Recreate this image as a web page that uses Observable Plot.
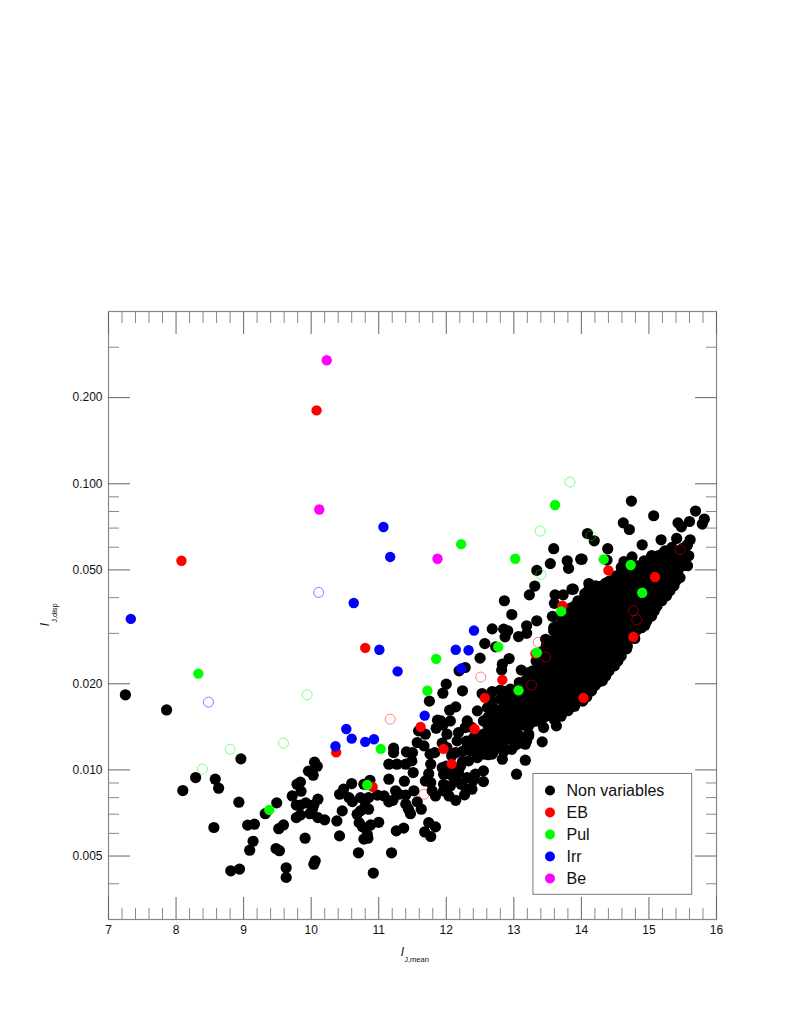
<!DOCTYPE html>
<html>
<head>
<meta charset="utf-8">
<script src="https://cdn.jsdelivr.net/npm/d3@7"></script>
<script src="https://cdn.jsdelivr.net/npm/@observablehq/plot@0.6"></script>
<style>html,body{margin:0;padding:0;background:#fff}svg{display:block}</style>
</head>
<body>
<div id="chart"></div>
<script>
const nonVariables = [
[7.25,.0183],[7.86,.0162],[8.96,.01093],[8.29,.0094],[8.58,.00928],[8.63,.00863],[8.10,.00847],[8.93,.00771],[9.49,.00767],[9.32,.00703],[9.72,.00811],[9.79,.00891],[9.84,.00906],[9.85,.00842],[9.96,.0099],[10.03,.00958],[10.05,.01064],[10.09,.0103],[9.78,.00753],[9.84,.00753],[9.92,.00767],[10.04,.00755],[10.10,.0079],[9.78,.00681],[9.84,.00696],[9.98,.00703],[10.10,.00681],[9.06,.00641],[9.16,.00646],[8.56,.00629],[9.52,.00623],[9.59,.00642],[9.14,.00563],[9.09,.00524],[9.91,.00577],[9.48,.00531],[9.53,.00522],[10.06,.00481],[10.04,.00468],[9.63,.00455],[9.63,.00421],[8.81,.00444],[8.94,.0045],
[10.02,.0073],[10.20,.00669],[10.38,.00663],[10.46,.00719],[10.42,.00588],[10.70,.00513],[11.19,.00513],[10.92,.00436],[10.42,.00822],[10.48,.00856],[10.60,.00896],[10.56,.008],[10.61,.00775],[10.73,.008],[10.85,.008],[10.98,.00816],[11.08,.00811],[11.15,.00773],[11.21,.00783],[10.87,.0092],[10.78,.00891],[10.73,.00719],[10.68,.007],[10.85,.00729],[10.80,.00748],[10.71,.00654],[10.76,.00632],[10.88,.00642],[11.00,.00656],[10.83,.00596],[10.84,.00577],[10.78,.00573],[11.26,.00612],[11.37,.00626],[11.15,.00928],[11.38,.00913],[11.25,.00845],[11.30,.00822],[11.40,.00816],[11.52,.00845],[11.40,.00759],[11.44,.00729],[11.47,.00703],[11.63,.00729],[11.57,.00773],[11.74,.00654],[11.84,.00632],[11.68,.00607],[11.77,.00585],
[11.15,.01047],[11.27,.01047],[11.40,.01047],[11.22,.01191],[11.22,.01149],[11.41,.01156],[11.50,.01149],[11.49,.01075],[11.51,.00979],[11.69,.00915],[11.77,.00903],[11.74,.0097],[11.77,.01047],[11.76,.01135],[11.83,.01149],[11.84,.00811],[11.79,.00845],[11.59,.01369],[11.69,.01333],[11.57,.01246],[11.67,.01213],[11.75,.01739],[11.95,.01854],[12.0,.01994],[12.24,.0189],[11.87,.01492],[11.92,.01483],[12.06,.01483],[11.85,.01399],[11.95,.01436],[12.01,.01333],[12.05,.01617],[12.14,.01661],[12.19,.0222],[12.28,.0228],[12.50,.02458],[12.68,.0311],[12.85,.03104],[12.91,.03062],[12.87,.02917],[13.07,.02924],[12.57,.02764],[12.73,.02692],[12.93,.0245],[12.83,.02342],[12.82,.02232],[13.11,.02232],[13.22,.02189],[12.95,.01915],[12.80,.019],[12.68,.01878],[12.53,.01848],[12.46,.01608],[12.61,.0165],[12.31,.01483],[12.18,.0135],[12.28,.01406],[12.16,.01263],[12.01,.01197],
[12.83,.0109],[13.17,.01081],[13.04,.00966],[12.55,.0091],[12.27,.00818],[12.38,.00856],[12.14,.00783],[12.04,.00811],[11.96,.00845],[11.96,.00891],[12.06,.00879],[12.16,.00915],[11.96,.00966],[12.06,.00966],[12.18,.00979],[12.31,.0094],[12.43,.00966],[12.55,.00992],[11.94,.01018],[12.06,.01018],[12.21,.0103],[12.33,.01075],[12.46,.01104],[12.55,.01135],[12.68,.01135],[12.73,.01181],[12.36,.01165],[12.48,.01181],[12.58,.01213],[12.68,.01246],[12.80,.01297],[12.90,.01333],[12.83,.01181],[12.31,.01213],[12.43,.01315],[12.55,.01333],[12.65,.01369],[12.75,.01406],[12.85,.01442],[12.95,.01504],[12.55,.01483],[12.68,.01544],[12.80,.01608],[12.93,.01674],[13.05,.01743],[13.17,.01814],[12.68,.01743],[12.80,.01767],[12.90,.01814],[13.0,.01263],[13.03,.01223],[13.19,.01263],[13.22,.01333],[11.94,.0124],
[14.74,.087],[15.07,.0773],[14.62,.073],[14.71,.0692],[15.69,.0803],[15.43,.073],[15.48,.0707],[15.60,.0738],[15.82,.0753],[15.79,.0723],[14.09,.067],[14.19,.0632],[14.90,.0612],[15.18,.0637],[15.41,.0644],[15.61,.0637],[15.57,.0612],[14.39,.0593],[14.01,.0545],[14.38,.0541],[14.75,.0555],[14.63,.0535],[14.59,.051],[14.95,.0535],[15.22,.0575],[15.34,.0599],[15.59,.056],[13.88,.0428],[14.11,.0448],[14.21,.044],
[13.59,.0593],[13.34,.0498],[13.54,.0526],[13.79,.0538],[13.99,.0545],[13.81,.0506],[13.31,.0439],[13.23,.0409],[13.61,.0409],[13.73,.0409],[13.86,.0428],[12.86,.039],[12.97,.0349],[13.34,.0332],[13.60,.0382],[13.57,.0344],[13.94,.0382],[13.88,.0351],[13.19,.0319],[13.19,.03],[13.47,.0286],[13.59,.0314],[13.52,.0268],
[13.63,.01425],[13.42,.01253],[13.17,.0123],[13.22,.01315],[13.02,.01246],[13.37,.01523],[13.44,.01406],
[12.62,.0153],[12.62,.0142],[12.62,.0131],[12.62,.0122],[12.62,.0113],
[12.72,.0163],[12.72,.0151],[12.72,.014],[12.72,.013],[12.72,.012],
[12.85,.0188],[12.85,.0172],[12.85,.0158],[12.85,.0148],[12.85,.0136],[12.85,.0125],[12.85,.0116],
[12.97,.0188],[12.97,.0174],[12.97,.016],[12.97,.0148],[12.97,.0138],[12.97,.0128],[12.97,.0118],
[13.08,.0202],[13.08,.0186],[13.08,.0165],[13.08,.0155],[13.08,.0143],[13.08,.0132],[13.08,.0124],
[12.4,.0129],[12.37,.0141],[12.5,.0124],[12.42,.0119],[12.24,.0116],[12.3,.0126],[12.14,.0115],[12.08,.0112],[12.24,.0107],[12.1,.0095],[12.22,.0089],[12.3,.0086],[12.4,.0092],[12.0,.0103],
// dense ridge, column by column
[13.17,.0205],[13.15,.0189],[13.18,.0174],[13.16,.0161],[13.19,.0148],[13.17,.0143],
[13.28,.0222],[13.26,.0205],[13.29,.0189],[13.27,.0174],[13.30,.0161],[13.28,.0148],
[13.38,.025],[13.40,.0231],[13.36,.0213],[13.39,.0197],[13.37,.0181],[13.40,.0167],[13.38,.0154],
[13.48,.0271],[13.50,.025],[13.46,.0231],[13.49,.0213],[13.47,.0197],[13.50,.0181],[13.48,.0167],[13.46,.0154],
[13.59,.0306],[13.57,.0282],[13.60,.026],[13.58,.024],[13.61,.0222],[13.59,.0205],[13.57,.0189],[13.60,.0174],[13.58,.0161],[13.60,.015],
[13.69,.0345],[13.71,.0319],[13.67,.0294],[13.70,.0271],[13.68,.025],[13.71,.0231],[13.69,.0213],[13.67,.0197],[13.70,.0181],[13.68,.0167],[13.70,.0154],
[13.79,.036],[13.81,.0332],[13.77,.0306],[13.80,.0282],[13.78,.026],[13.81,.024],[13.79,.0222],[13.77,.0205],[13.80,.0189],[13.78,.0174],[13.80,.0161],
[13.90,.0374],[13.88,.0345],[13.91,.0319],[13.89,.0294],[13.92,.0271],[13.90,.025],[13.88,.0231],[13.91,.0213],[13.89,.0197],[13.92,.0181],[13.90,.0167],
[14.00,.039],[14.02,.036],[13.98,.0332],[14.01,.0306],[13.99,.0282],[14.02,.026],[14.00,.024],[13.98,.0222],[14.01,.0205],[13.99,.0189],[14.02,.0174],
[14.10,.0423],[14.08,.039],[14.11,.036],[14.09,.0332],[14.12,.0306],[14.10,.0282],[14.08,.026],[14.11,.024],[14.09,.0222],[14.12,.0205],[14.10,.0189],[14.08,.018],
[14.21,.0406],[14.23,.0374],[14.19,.0345],[14.22,.0319],[14.20,.0294],[14.23,.0271],[14.21,.025],[14.19,.0231],[14.22,.0213],[14.20,.0197],
[14.31,.044],[14.29,.0406],[14.32,.0374],[14.30,.0345],[14.33,.0319],[14.31,.0294],[14.29,.0271],[14.32,.025],[14.30,.0231],[14.33,.0213],[14.31,.0205],
[14.42,.0458],[14.44,.0423],[14.40,.039],[14.43,.036],[14.41,.0332],[14.44,.0306],[14.42,.0282],[14.40,.026],[14.43,.024],[14.41,.0222],
[14.52,.0477],[14.50,.044],[14.53,.0406],[14.51,.0374],[14.54,.0345],[14.52,.0319],[14.50,.0294],[14.53,.0271],[14.51,.025],[14.54,.024],
[14.62,.0497],[14.64,.0458],[14.60,.0423],[14.63,.039],[14.61,.036],[14.64,.0332],[14.62,.0306],[14.60,.0282],[14.63,.0271],
[14.73,.0497],[14.71,.0477],[14.74,.044],[14.72,.0406],[14.75,.0374],[14.73,.0345],[14.71,.0319],[14.74,.0294],
[14.83,.0517],[14.85,.0477],[14.81,.044],[14.84,.0406],[14.82,.0374],[14.85,.0345],[14.83,.0319],[14.81,.0306],
[14.93,.0538],[14.91,.0497],[14.94,.0458],[14.92,.0423],[14.95,.039],[14.93,.036],[14.91,.0332],[14.94,.032],
[15.04,.0561],[15.06,.0517],[15.02,.0477],[15.05,.044],[15.03,.0406],[15.06,.0374],[15.04,.0345],
[15.14,.0561],[15.12,.0538],[15.15,.0497],[15.13,.0458],[15.16,.0423],[15.14,.039],[15.12,.0374],
[15.24,.0583],[15.26,.0538],[15.22,.0497],[15.25,.0458],[15.23,.0423],[15.26,.0406],
[15.35,.0583],[15.33,.0561],[15.36,.0517],[15.34,.0477],[15.37,.044],
[15.45,.0583],[15.47,.0538],[15.43,.0497],[15.46,.047],
[15.56,.0607],[15.54,.0561],[15.57,.0517],
// in between the columns above
[13.22,.0213],[13.23,.0197],[13.21,.0181],[13.22,.0167],[13.24,.0154],[13.22,.0143],
[13.33,.024],[13.34,.0222],[13.32,.0205],[13.33,.0189],[13.35,.0174],[13.33,.0161],[13.32,.0148],
[13.43,.026],[13.44,.024],[13.42,.0222],[13.43,.0205],[13.45,.0189],[13.43,.0174],[13.42,.0161],[13.44,.0152],
[13.53,.0282],[13.54,.026],[13.52,.024],[13.53,.0222],[13.55,.0205],[13.53,.0189],[13.52,.0174],[13.54,.0161],[13.53,.0155],
[13.64,.0319],[13.65,.0294],[13.63,.0271],[13.64,.025],[13.66,.0231],[13.64,.0213],[13.63,.0197],[13.65,.0181],[13.64,.0167],[13.66,.0156],
[13.74,.0353],[13.75,.0332],[13.73,.0306],[13.74,.0282],[13.76,.026],[13.74,.024],[13.73,.0222],[13.75,.0205],[13.74,.0189],[13.76,.0174],[13.74,.0161],
[13.84,.0368],[13.85,.0345],[13.83,.0319],[13.84,.0294],[13.86,.0271],[13.84,.025],[13.83,.0231],[13.85,.0213],[13.84,.0197],[13.86,.0181],[13.84,.0165],
[13.95,.039],[13.96,.036],[13.94,.0332],[13.95,.0306],[13.97,.0282],[13.95,.026],[13.94,.024],[13.96,.0222],[13.95,.0205],[13.97,.0189],[13.95,.0174],
[14.05,.0413],[14.06,.0374],[14.04,.0345],[14.05,.0319],[14.07,.0294],[14.05,.0271],[14.04,.025],[14.06,.0231],[14.05,.0213],[14.07,.0197],[14.05,.0181],
[14.15,.0423],[14.16,.039],[14.14,.036],[14.15,.0332],[14.17,.0306],[14.15,.0282],[14.14,.026],[14.16,.024],[14.15,.0222],[14.17,.0205],[14.15,.0189],
[14.26,.0436],[14.27,.0406],[14.25,.0374],[14.26,.0345],[14.28,.0319],[14.26,.0294],[14.25,.0271],[14.27,.025],[14.26,.0231],[14.28,.0213],[14.26,.0203],
[14.36,.045],[14.37,.0423],[14.35,.039],[14.36,.036],[14.38,.0332],[14.36,.0306],[14.35,.0282],[14.37,.026],[14.36,.024],[14.38,.0222],[14.36,.0213],
[14.47,.0458],[14.48,.044],[14.46,.0406],[14.47,.0374],[14.49,.0345],[14.47,.0319],[14.46,.0294],[14.48,.0271],[14.47,.025],[14.49,.0231],
[14.57,.047],[14.58,.0458],[14.56,.0423],[14.57,.039],[14.59,.036],[14.57,.0332],[14.56,.0306],[14.58,.0282],[14.57,.026],[14.59,.025],
[14.67,.0477],[14.68,.044],[14.66,.0406],[14.67,.0374],[14.69,.0345],[14.67,.0319],[14.66,.0294],[14.68,.0271],[14.67,.0265],
[14.78,.0492],[14.79,.0458],[14.77,.0423],[14.78,.039],[14.80,.036],[14.78,.0332],[14.77,.0306],[14.79,.0288],
[14.88,.0506],[14.89,.0477],[14.87,.044],[14.88,.0406],[14.90,.0374],[14.88,.0345],[14.87,.0319],[14.89,.0314],
[14.98,.0526],[14.99,.0497],[14.97,.0458],[14.98,.0423],[15.00,.039],[14.98,.036],[14.97,.0332],
[15.09,.0545],[15.10,.0517],[15.08,.0477],[15.09,.044],[15.11,.0406],[15.09,.0374],[15.08,.036],
[15.19,.0561],[15.20,.0517],[15.18,.0477],[15.19,.044],[15.21,.0406],[15.19,.039],
[15.29,.0572],[15.30,.0538],[15.28,.0497],[15.29,.0458],[15.31,.0423],
[15.40,.0583],[15.41,.0538],[15.39,.0497],[15.40,.0458],
[15.50,.0595],[15.51,.0561],[15.49,.0517]
];
const eb = [[10.08,.1805],[8.08,.0538],[10.80,.0267],[10.37,.01151],[10.91,.00872],[11.62,.01413],[11.96,.01184],[12.08,.0105],[12.42,.0139],[12.57,.01785],[12.83,.02064],[13.72,.03745],[14.77,.02917],[14.03,.01785],[13.32,.0255],[14.40,.0498],[15.09,.0472]];
const pul = [[8.33,.0217],[9.38,.00725],[10.83,.00886],[11.03,.01184],[11.72,.0189],[11.85,.02444],[12.77,.0269],[13.07,.01897],[12.22,.0615],[13.02,.0547],[13.61,.0843],[13.70,.0358],[13.34,.0257],[14.33,.0544],[14.73,.052],[14.90,.0416]];
const irr = [[7.33,.0337],[11.07,.0706],[11.17,.0555],[10.63,.0383],[11.01,.0263],[11.28,.0221],[12.41,.0307],[12.14,.0263],[12.33,.0262],[12.22,.0226],[11.68,.01548],[10.52,.0139],[10.60,.01286],[10.80,.01253],[10.93,.0128],[10.36,.0121]];
const be = [[10.23,.2703],[10.12,.0813],[11.87,.0547]];
const ebOpen = [[11.17,.01504],[12.51,.0211],[13.36,.0279],[11.67,.00822],[13.26,.0198],[13.47,.0248],[14.77,.036],[14.82,.0335],[15.46,.0589]];
const pulOpen = [[8.80,.01181],[8.39,.01006],[9.59,.0124],[9.94,.0183],[13.83,.1014],[13.39,.0683],[13.40,.0482],[14.14,.0658]];
const irrOpen = [[10.11,.0417],[8.48,.01725]];

const xMajor = [7,8,9,10,11,12,13,14,15,16];
const xMinor = [7.2,7.4,7.6,7.8,8.2,8.4,8.6,8.8,9.2,9.4,9.6,9.8,10.2,10.4,10.6,10.8,11.2,11.4,11.6,11.8,12.2,12.4,12.6,12.8,13.2,13.4,13.6,13.8,14.2,14.4,14.6,14.8,15.2,15.4,15.6,15.8];
const yMajor = [0.005,0.01,0.02,0.05,0.1,0.2];
const yMinor = [0.003,0.004,0.006,0.007,0.008,0.009,0.03,0.04,0.06,0.07,0.08,0.09,0.3];
const legendNames = ["Non variables","EB","Pul","Irr","Be"];
const legendColors = ["#000000","#ff0000","#00ff00","#0000ff","#ff00ff"];

const font = "'Liberation Sans', Arial, sans-serif";
const filled = (d, c, r = 5.2) => Plot.dot(d, {x: p => p[0], y: p => p[1], r, fill: c, stroke: "none"});
const open = (d, c) => Plot.dot(d, {x: p => p[0], y: p => p[1], r: 5, fill: "none", stroke: c, strokeWidth: 0.9, strokeOpacity: 0.55});
const tickColor = "#666";

const legendMarks = legendNames.flatMap((name, i) => [
  Plot.dot([name], {frameAnchor: "bottom-left", dx: 441.5, dy: -(129 - 22 * i), r: 5, fill: legendColors[i]}),
  Plot.text([name], {frameAnchor: "bottom-left", dx: 458, dy: -(129 - 22 * i), text: d => d, textAnchor: "start", lineAnchor: "middle", fontSize: 16, fill: "#111"})
]);

const chart = Plot.plot({
  width: 789, height: 1021,
  marginLeft: 108, marginRight: 73, marginTop: 311, marginBottom: 102,
  style: {fontFamily: font, background: "#fff"},
  x: {domain: [7, 16], label: null},
  y: {type: "log", domain: [0.003, 0.4], label: null},
  marks: [
    filled(nonVariables, "#000", 5.6),
    open(ebOpen, "#ff0000"), open(pulOpen, "#00ff00"), open(irrOpen, "#0000ff"),
    filled(eb, "#ff0000"), filled(irr, "#0000ff"), filled(pul, "#00ff00"), filled(be, "#ff00ff"),
    Plot.rect([0], {x1: () => 13.29, x2: () => 15.64, y1: () => 0.00366, y2: () => 0.00968, fill: "#fff", stroke: "#777", strokeWidth: 1}),
    ...legendMarks,
    Plot.frame({stroke: "#888", strokeWidth: 1.2}),
    Plot.axisX(xMajor, {anchor: "bottom", tickSize: -22, tickPadding: 28, stroke: tickColor, fontSize: 12, label: null, tickFormat: d => String(d), fill: "#111"}),
    Plot.axisX(xMinor, {anchor: "bottom", tickSize: -11, stroke: "#888", tickFormat: () => "", label: null}),
    Plot.axisX(xMajor, {anchor: "top", tickSize: -22, stroke: tickColor, tickFormat: () => "", label: null}),
    Plot.axisX(xMinor, {anchor: "top", tickSize: -11, stroke: "#888", tickFormat: () => "", label: null}),
    Plot.axisY(yMajor, {anchor: "left", tickSize: -22, tickPadding: 28, stroke: tickColor, fontSize: 12, label: null, tickFormat: d => d3.format(".3f")(d), fill: "#111"}),
    Plot.axisY(yMinor, {anchor: "left", tickSize: -11, stroke: "#888", tickFormat: () => "", label: null}),
    Plot.axisY(yMajor, {anchor: "right", tickSize: -22, stroke: tickColor, tickFormat: () => "", label: null}),
    Plot.axisY(yMinor, {anchor: "right", tickSize: -11, stroke: "#888", tickFormat: () => "", label: null}),
    Plot.text(["I"], {frameAnchor: "bottom", lineAnchor: "middle", dy: 33, dx: -10, text: d => d, fontStyle: "italic", fontSize: 12, fill: "#111"}),
    Plot.text(["J,mean"], {frameAnchor: "bottom", lineAnchor: "middle", dy: 40, dx: 4, text: d => d, fontSize: 7.5, fill: "#111"}),
    Plot.text(["I"], {frameAnchor: "left", textAnchor: "middle", lineAnchor: "middle", dx: -63, dy: 9, rotate: -90, text: d => d, fontStyle: "italic", fontSize: 12, fill: "#111"}),
    Plot.text(["J,disp"], {frameAnchor: "left", textAnchor: "middle", lineAnchor: "middle", dx: -53.5, dy: -2.5, rotate: -90, text: d => d, fontSize: 7.5, fill: "#111"})
  ]
});
document.getElementById("chart").appendChild(chart);
</script>
</body>
</html>
